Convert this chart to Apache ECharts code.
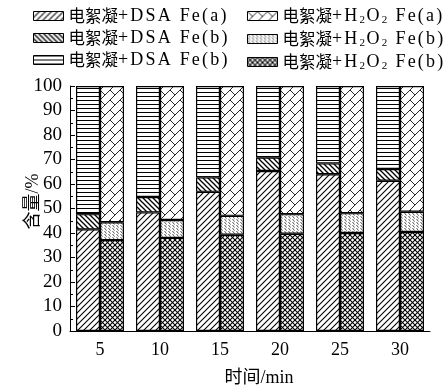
<!DOCTYPE html>
<html><head><meta charset="utf-8">
<script src="https://cdn.jsdelivr.net/npm/echarts@6/dist/echarts.min.js"></script>
<style>html,body{margin:0;padding:0;background:#fff}#c{width:446px;height:392px}</style>
</head><body><div id="c"></div>
<script>
const categories = ['5','10','15','20','25','30'];
const dsaA  = [41.5, 48.4, 56.8, 65.3, 64.0, 61.3];
const dsaB  = [6.2, 6.3, 5.9, 5.5, 4.4, 4.8];
const dsaC  = [52.3, 45.3, 37.3, 29.2, 31.6, 33.9];
const h2o2Bottom = [37.1, 38.0, 39.3, 39.7, 40.0, 40.4];
const h2o2Mid    = [7.3, 7.3, 7.7, 8.0, 8.1, 8.3];
const h2o2Top    = [55.6, 54.7, 53.0, 52.3, 51.9, 51.3];
const yTicks = [0,10,20,30,40,50,60,70,80,90,100];

const FONT = "'Liberation Serif','Times New Roman','Noto Sans CJK SC',serif";
const CJK = "'Noto Sans CJK SC','Liberation Serif',serif";

function tile(w, h, draw) {
  const c = document.createElement('canvas');
  c.width = w; c.height = h;
  const g = c.getContext('2d');
  g.fillStyle = '#fff'; g.fillRect(0,0,w,h);
  g.strokeStyle = '#000'; g.lineWidth = 1;
  draw(g, w, h);
  return {image: c, repeat: 'repeat'};
}
function line(g, x1,y1,x2,y2){ g.beginPath(); g.moveTo(x1,y1); g.lineTo(x2,y2); g.stroke(); }

const patSlash = tile(6,6,(g,w,h)=>{ g.lineWidth=1.1; for(let k=-1;k<=2;k++){ line(g, k*w-1, h+1, k*w+w+1, -1);} });
const patBack = tile(5,5,(g,w,h)=>{ g.lineWidth=1.3; for(let k=-1;k<=2;k++){ line(g, k*w-1, -1, k*w+w+1, h+1);} });
const patHoriz = tile(4,4,(g,w,h)=>{ g.lineWidth=1; line(g,0,0.5,w,0.5); });
const patCross = tile(5,5,(g,w,h)=>{ g.lineWidth=1.1; for(let k=-1;k<=2;k++){ line(g,k*w-1,-1,k*w+w+1,h+1); line(g,k*w-1,h+1,k*w+w+1,-1);} });
const patFine = tile(4,3,(g,w,h)=>{ g.strokeStyle='#444'; g.lineWidth=0.9; line(g,0.5,0,2.5,2.6); });
const patBrick = tile(20,20,(g,w,h)=>{
  g.lineWidth=0.9; g.strokeStyle='#111';
  const p=10,q=20;
  for(let k=-6;k<=10;k++){
    const u=k*p;
    line(g, u+30, -30, u-30, 30);
    for(let m=-4;m<=6;m++){
      const v = m*q + ((k%2+2)%2)*q/2;
      const x1=(u+v)/2, y1=(u-v)/2, x2=(u+p+v)/2, y2=(u+p-v)/2;
      line(g,x1,y1,x2,y2);
    }
  }
});

function rich(parts){
  return parts.map(([st, s]) => st === 's' ? `{s|${s}}` : s.split('').map(ch => `{${st}|${ch}}`).join('')).join('');
}
const labels = {
  dsaA: rich([['c','电絮凝'],['l','+DSA Fe(a)']]),
  dsaB: rich([['c','电絮凝'],['l','+DSA Fe(b)']]),
  dsaC: rich([['c','电絮凝'],['l','+DSA Fe(b)']]),
  hA: rich([['c','电絮凝'],['l','+H'],['s','2'],['l','O'],['s','2'],['l',' Fe(a)']]),
  hB: rich([['c','电絮凝'],['l','+H'],['s','2'],['l','O'],['s','2'],['l',' Fe(b)']]),
  hC: rich([['c','电絮凝'],['l','+H'],['s','2'],['l','O'],['s','2'],['l',' Fe(b)']])
};

function bar(name, data, stack, pat){
  return {name, type:'bar', stack, data, barGap:'0%', barCategoryGap:'20%',
    itemStyle:{color:pat, borderColor:'#000', borderWidth:1.2}, emphasis:{disabled:true}, animation:false};
}

const legendCommon = {
  orient:'vertical', itemWidth:30, itemHeight:9, itemGap:4, icon:'rect', padding:0,
  selectedMode:false,
  itemStyle:{borderColor:'#000', borderWidth:1},
  formatter: n => labels[n],
  textStyle:{fontFamily:FONT, fontSize:18, color:'#000', lineHeight:18,
    rich:{
      c:{fontFamily:CJK, fontSize:16.5, color:'#000'},
      l:{fontFamily:FONT, fontSize:18, color:'#000', padding:[0,2.2,0,0]},
      s:{fontFamily:FONT, fontSize:11, color:'#000', padding:[9,1.5,0,0]}
    }}
};

const chart = echarts.init(document.getElementById('c'), null, {renderer:'canvas'});
chart.setOption({
  animation:false,
  grid:{left:70, right:16, top:86, bottom:56},
  legend:[
    Object.assign({}, legendCommon, {left:33, top:7, data:['dsaA','dsaB','dsaC']}),
    Object.assign({}, legendCommon, {left:247, top:7, data:['hA','hB','hC']})
  ],
  xAxis:{type:'category', data:categories,
    axisLine:{lineStyle:{color:'#000', width:1}},
    axisTick:{inside:true, length:3, lineStyle:{color:'#000'}},
    axisLabel:{fontFamily:FONT, fontSize:18, color:'#000', margin:10},
    name:'时间/min', nameLocation:'middle', nameGap:38, nameMoveOverlap:false,
    nameTextStyle:{fontFamily:FONT, fontSize:18, color:'#000', padding:[0,0,0,18]}
  },
  yAxis:{type:'value', min:0, max:100, interval:10,
    axisLine:{show:true, lineStyle:{color:'#000', width:1}},
    axisTick:{show:true, inside:true, length:5, lineStyle:{color:'#000'}},
    minorTick:{show:true, splitNumber:2, length:3, lineStyle:{color:'#000'}},
    splitLine:{show:false},
    axisLabel:{fontFamily:FONT, fontSize:19, color:'#000', margin:8,
      formatter: v => yTicks.includes(v) ? String(v) : ''},
    name:'含量/%', nameLocation:'middle', nameGap:28, nameRotate:90, nameMoveOverlap:false,
    nameTextStyle:{fontFamily:FONT, fontSize:18, color:'#000', padding:[0,0,0,14]}
  },
  series:[
    bar('dsaA', dsaA, 'dsa', patSlash),
    bar('dsaB', dsaB, 'dsa', patBack),
    bar('dsaC', dsaC, 'dsa', patHoriz),
    bar('hC', h2o2Bottom, 'h', patCross),
    bar('hB', h2o2Mid, 'h', patFine),
    bar('hA', h2o2Top, 'h', patBrick)
  ]
});
</script></body></html>
